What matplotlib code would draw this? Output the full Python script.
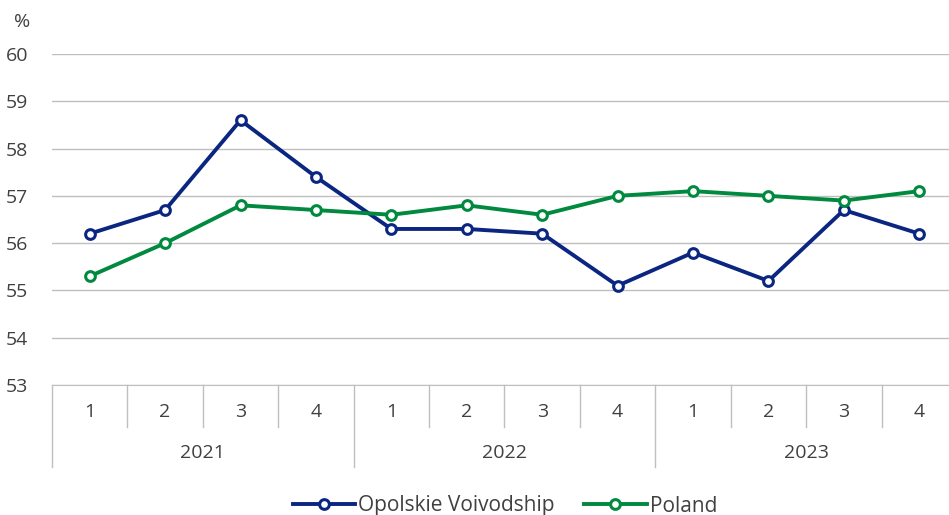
import numpy as np
import matplotlib.pyplot as plt
import matplotlib.transforms as mtransforms

plt.rcParams['font.family'] = ['Open Sans', 'DejaVu Sans']

years = ['2021', '2022', '2023']
quarters = ['1', '2', '3', '4']
opolskie = [56.2, 56.7, 58.6, 57.4, 56.3, 56.3, 56.2, 55.1, 55.8, 55.2, 56.7, 56.2]
poland = [55.3, 56.0, 56.8, 56.7, 56.6, 56.8, 56.6, 57.0, 57.1, 57.0, 56.9, 57.1]

navy = '#0b2680'
green = '#00893f'
grid_col = '#bfbfbf'
text_col = '#404040'

fig = plt.figure(figsize=(9.49, 5.15), dpi=100)
ax = fig.add_axes([52 / 949, 130 / 515, 905 / 949, 331 / 515])

x = np.arange(len(opolskie))
mk = dict(marker='o', markersize=7, markerfacecolor='white', markeredgewidth=2.2)
ax.plot(x, opolskie, color=navy, lw=2.8, label='Opolskie Voivodship', markeredgecolor=navy, **mk, zorder=3)
ax.plot(x, poland, color=green, lw=2.8, label='Poland', markeredgecolor=green, **mk, zorder=3)

ax.set_xlim(-0.5, len(x) - 0.5)
ax.set_ylim(53, 60)
ax.set_yticks(range(53, 61))
ax.yaxis.grid(True, color=grid_col, lw=1)
ax.set_axisbelow(True)
for s in ['top', 'right', 'left']:
    ax.spines[s].set_visible(False)
ax.spines['bottom'].set_color(grid_col)
ax.tick_params(axis='y', length=0, labelsize=14, labelcolor=text_col, pad=17)
ax.tick_params(axis='x', length=0, labelbottom=False)

# two-level category axis
trans = mtransforms.blended_transform_factory(ax.transData, ax.transAxes)
q_low = -42 / 331
y_low = -82 / 331
for i in range(len(x) + 1):
    bottom = y_low if i % 4 == 0 else q_low
    ax.plot([i - 0.5, i - 0.5], [0, bottom], color=grid_col, lw=1,
            transform=trans, clip_on=False)
for i in x:
    ax.text(i, -27 / 331, quarters[i % 4], transform=trans, ha='center', va='center',
            fontsize=14, color=text_col)
for j, yr in enumerate(years):
    ax.text(j * 4 + 1.5, -68 / 331, yr, transform=trans, ha='center', va='center',
            fontsize=14, color=text_col)

fig.text(22 / 949, 1 - 22 / 515, '%', ha='center', va='center', fontsize=14, color=text_col)

leg = fig.legend(loc='center', bbox_to_anchor=(0.532, 9 / 515), ncol=2, frameon=False,
                 fontsize=15, handlelength=3, handletextpad=0.15, columnspacing=1.4)
for t in leg.get_texts():
    t.set_color(text_col)

fig.savefig('out.png', dpi=100)
